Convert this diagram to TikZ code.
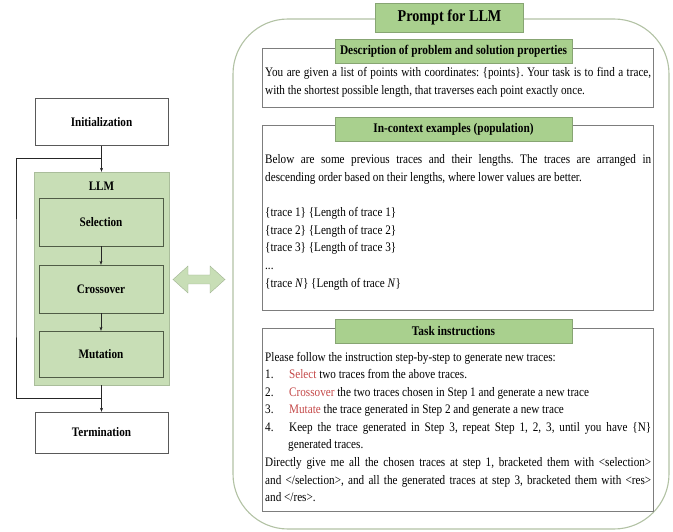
\documentclass[tikz,border=0pt]{standalone}
\usepackage{fontspec}
\setmainfont[FakeStretch=0.86]{Liberation Serif}
\usetikzlibrary{positioning,arrows.meta}
\definecolor{llmgreen}{RGB}{200,222,182}
\definecolor{tabgreen}{RGB}{169,208,142}
\definecolor{tabedge}{RGB}{135,165,115}
\definecolor{boxedge}{RGB}{80,92,70}
\definecolor{paneledge}{RGB}{178,194,164}
\definecolor{textedge}{RGB}{125,125,125}
\definecolor{opred}{RGB}{196,72,72}
\hyphenpenalty=10000
\frenchspacing
\newcommand{\stepline}[2]{\hangindent=23pt\hangafter=1\noindent\makebox[24pt][l]{#1.}#2\par}

\begin{document}
\begin{tikzpicture}[x=1pt,y=-1pt,
  stage/.style={draw=black!65, fill=white, minimum width=133pt, font=\bfseries\fontsize{13}{15}\selectfont},
  op/.style={draw=boxedge, fill=llmgreen, minimum width=124pt, minimum height=48pt, font=\bfseries\fontsize{13}{15}\selectfont},
  flow/.style={-{Stealth[length=4pt,width=3pt]}, black!85},
  tab/.style={draw=tabedge, fill=tabgreen, minimum width=237pt, minimum height=24pt, inner sep=0pt, font=\bfseries\fontsize{13.2}{15}\selectfont},
  part/.style={draw=textedge, line width=0.9pt},
  body/.style={text width=386pt, align=justify, inner sep=0pt, anchor=base west, font=\fontsize{13}{17.6}\selectfont}]
\useasboundingbox (0,0) rectangle (673,532);

\node[stage, minimum height=47pt] (init) at (101.5,122) {Initialization};
\node[draw=llmgreen!85!black, fill=llmgreen, minimum width=135pt, minimum height=213pt] (llm) at (101.5,278.5) {};
\node[font=\bfseries\fontsize{13}{15}\selectfont] (llmlabel) at (101.5,186) {LLM};
\node[op] (select) at (101,222) {Selection};
\node[op] (cross) at (101,289) {Crossover};
\node[op, minimum height=46pt] (mutate) at (101,354) {Mutation};
\node[stage, minimum height=41pt] (term) at (101.5,432.5) {Termination};

\coordinate (looptop) at (101.5,158);
\coordinate (loopbot) at (101.5,398);
\coordinate (loopleft) at (16,278);
\draw[flow] (init) -- (llm);
\draw[flow] (select) -- (cross);
\draw[flow] (cross) -- (mutate);
\draw[flow] (llm) -- (term);
\draw[black!85] (loopbot) -| (loopleft) |- (looptop);

\draw[fill=llmgreen, draw=llmgreen!80!black] (173,279.5) -- (188,266) -- (188,275) -- (210,275) -- (210,266) -- (225,279.5) -- (210,293) -- (210,284) -- (188,284) -- (188,293) -- cycle;

\draw[paneledge, line width=1.1pt, rounded corners=55pt] (233,19) rectangle (669,529);
\node[tab, minimum width=148pt, minimum height=29pt, font=\bfseries\fontsize{16.5}{20}\selectfont] (prompt) at (449.5,17.5) {Prompt for LLM};

\draw[part] (262,48) rectangle (653,107);
\node[tab] (desctab) at (453.5,51) {Description of problem and solution properties};
\node[body] (desctext) at (265,77) {You are given a list of points with coordinates: \{points\}. Your task is to find a trace,\linebreak with the shortest possible length, that traverses each point exactly once.};

\draw[part] (262,125) rectangle (653,310);
\node[tab] (ctxtab) at (453.5,129.5) {In-context examples (population)};
\node[body] (ctxtext) at (265,164) {Below are some previous traces and their lengths. The traces are arranged in\linebreak descending order based on their lengths, where lower values are better.\par
\vspace{17.6pt}\{trace 1\} \{Length of trace 1\}\par
\{trace 2\} \{Length of trace 2\}\par
\{trace 3\} \{Length of trace 3\}\par
...\par
\{trace \textit{N}\} \{Length of trace \textit{N}\}};

\draw[part] (262,328) rectangle (653,511);
\node[tab] (tasktab) at (453.5,331) {Task instructions};
\node[body] (tasktext) at (265,361) {Please follow the instruction step-by-step to generate new traces:\par
\stepline{1}{\textcolor{opred}{Select} two traces from the above traces.}
\stepline{2}{\textcolor{opred}{Crossover} the two traces chosen in Step 1 and generate a new trace}
\stepline{3}{\textcolor{opred}{Mutate} the trace generated in Step 2 and generate a new trace}
\stepline{4}{Keep the trace generated in Step 3, repeat Step 1, 2, 3, until you have \{N\}\linebreak generated traces.}
Directly give me all the chosen traces at step 1, bracketed them with <selection>\linebreak and </selection>, and all the generated traces at step 3, bracketed them with <res>\linebreak and </res>.};
\end{tikzpicture}
\end{document}
